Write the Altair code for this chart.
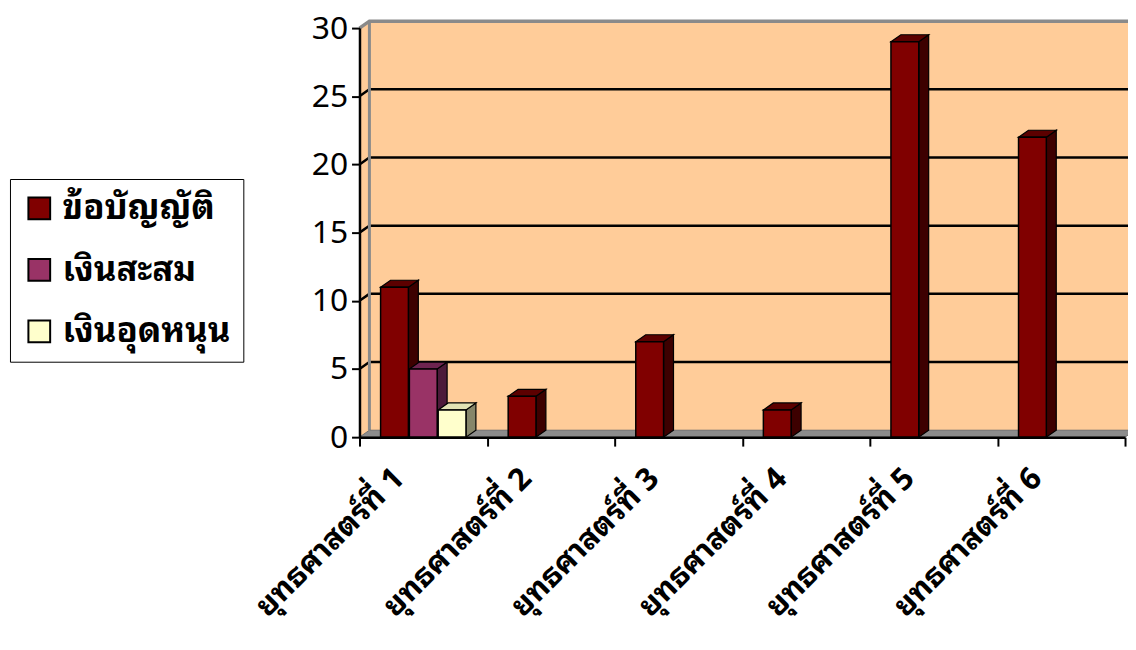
import altair as alt
import pandas as pd

# ---- data ----
categories = ["ยุทธศาสตร์ที่ 1", "ยุทธศาสตร์ที่ 2", "ยุทธศาสตร์ที่ 3",
              "ยุทธศาสตร์ที่ 4", "ยุทธศาสตร์ที่ 5", "ยุทธศาสตร์ที่ 6"]
series_names = ["ข้อบัญญัติ", "เงินสะสม", "เงินอุดหนุน"]
v_bylaw = [11, 3, 7, 2, 29, 22]
v_savings = [5, 0, 0, 0, 0, 0]
v_subsidy = [2, 0, 0, 0, 0, 0]
y_ticks = [0, 5, 10, 15, 20, 25, 30]

front_colors = ["#800000", "#993366", "#FFFFCC"]
side_colors = ["#3D0000", "#4D1A3A", "#86866A"]
top_colors = ["#5C0000", "#6E2450", "#E2E2B4"]

THAI_FONT = "Noto Sans Thai Looped, Loma, Garuda, Tahoma, Noto Sans"

# ---- geometry (pixels) ----
W, H = 771, 412
NCAT, YMAX = len(categories), 30
PX_X = W / NCAT
PX_Y = H / YMAX
DX = 10 / PX_X       # depth offset in x units
DY = 7 / PX_Y        # depth offset in y units
BAR_W = 28 / PX_X
BAR_STEP = 29 / PX_X

values = [v_bylaw, v_savings, v_subsidy]

front_rows, side_rows, top_rows = [], [], []
for i in range(NCAT):
    for j, s in enumerate(series_names):
        v = values[j][i]
        if v <= 0:
            continue
        c = i + 0.5 + (j - 1) * BAR_STEP
        x0, x1 = c - BAR_W / 2, c + BAR_W / 2
        bid = f"{i}-{j}"
        front_rows.append(dict(bid=bid, series=s, x0=x0, x1=x1, top=v, bot=0))
        side_rows += [
            dict(bid=bid, col=side_colors[j], x=x1, top=v, bot=0),
            dict(bid=bid, col=side_colors[j], x=x1 + DX, top=v + DY, bot=DY),
        ]
        top_rows += [
            dict(bid=bid, col=top_colors[j], x=x0, top=v, bot=v),
            dict(bid=bid, col=top_colors[j], x=x0 + DX, top=v + DY, bot=v),
            dict(bid=bid, col=top_colors[j], x=x1, top=v + DY, bot=v),
            dict(bid=bid, col=top_colors[j], x=x1 + DX, top=v + DY, bot=v + DY),
        ]

front_df = pd.DataFrame(front_rows)
side_df = pd.DataFrame(side_rows)
top_df = pd.DataFrame(top_rows)

xs = alt.Scale(domain=[0, NCAT], nice=False, zero=False)
ys = alt.Scale(domain=[0, YMAX], nice=False)

AX_X = alt.Axis(values=list(range(NCAT + 1)), labels=False, title=None, grid=False,
                domainColor="black", domainWidth=2.5, tickColor="black", tickWidth=2,
                tickSize=9, zindex=1)
AX_Y = alt.Axis(values=y_ticks, title=None, grid=False, domainColor="black", domainWidth=2.5,
                tickColor="black", tickWidth=2, tickSize=8, labelFont="Noto Sans",
                labelFontSize=32, labelColor="black", labelPadding=4, zindex=1)


def X(f):
    return alt.X(f, scale=xs, axis=AX_X, title=None)


def Y(f):
    return alt.Y(f, scale=ys, axis=AX_Y, title=None, stack=None)


# walls
back_df = pd.DataFrame([dict(x0=DX, x1=NCAT + DX, y0=DY, y1=YMAX + DY)])
left_df = pd.DataFrame([dict(x=0, top=YMAX, bot=0), dict(x=DX, top=YMAX + DY, bot=DY)])
floor_df = pd.DataFrame([
    dict(x=0, top=0, bot=0), dict(x=DX, top=DY, bot=0),
    dict(x=NCAT, top=DY, bot=0), dict(x=NCAT + DX, top=DY, bot=DY)])

grid_rows = []
for v in y_ticks[1:-1]:
    grid_rows += [dict(g=v, x=0, y=v), dict(g=v, x=DX, y=v + DY), dict(g=v, x=NCAT + DX, y=v + DY)]
grid_df = pd.DataFrame(grid_rows)
border_df = pd.DataFrame([
    dict(g=1, x=0, y=YMAX), dict(g=1, x=DX, y=YMAX + DY), dict(g=1, x=NCAT + DX, y=YMAX + DY)])
vedge_df = pd.DataFrame([dict(x=DX, y0=DY, y1=YMAX + DY)])

peach = "#FFCC99"

back = alt.Chart(back_df).mark_rect(color=peach).encode(
    x=X("x0:Q"), x2="x1:Q", y=Y("y0:Q"), y2="y1:Q")

left = alt.Chart(left_df).mark_area(color=peach, orient="vertical").encode(
    x=X("x:Q"), y=Y("top:Q"), y2="bot:Q")

floor = alt.Chart(floor_df).mark_area(color="#8C8C8C", orient="vertical", stroke="#6E6E6E", strokeWidth=1).encode(
    x=X("x:Q"), y=Y("top:Q"), y2="bot:Q")

grid = alt.Chart(grid_df).mark_line(color="black", strokeWidth=2.5).encode(
    x=X("x:Q"), y=Y("y:Q"), detail="g:N")

border = alt.Chart(border_df).mark_line(color="#8A8A8A", strokeWidth=3.5).encode(
    x=X("x:Q"), y=Y("y:Q"), detail="g:N")

vedge = alt.Chart(vedge_df).mark_rule(color="#8A8A8A", strokeWidth=3).encode(
    x=X("x:Q"), y=Y("y0:Q"), y2="y1:Q")

sides = alt.Chart(side_df).mark_area(orient="vertical", stroke="black", strokeWidth=1.2).encode(
    x=X("x:Q"), y=Y("top:Q"), y2="bot:Q",
    fill=alt.Fill("col:N", scale=None), detail="bid:N")

tops = alt.Chart(top_df).mark_area(orient="vertical", stroke="black", strokeWidth=1.2).encode(
    x=X("x:Q"), y=Y("top:Q"), y2="bot:Q",
    fill=alt.Fill("col:N", scale=None), detail="bid:N")

fronts = alt.Chart(front_df).mark_rect(stroke="black", strokeWidth=1.5).encode(
    x=X("x0:Q"), x2="x1:Q", y=Y("top:Q"), y2="bot:Q",
    color=alt.Color("series:N",
                    scale=alt.Scale(domain=series_names, range=front_colors),
                    sort=series_names,
                    legend=alt.Legend(
                        title=None, orient="none", legendX=-352, legendY=152,
                        strokeColor="black", fillColor="white", padding=12,
                        symbolType="square", symbolSize=480,
                        symbolStrokeColor="black", symbolStrokeWidth=2,
                        labelFont=THAI_FONT, labelFontSize=35,
                        labelFontWeight="bold", labelColor="black",
                        labelOffset=6, rowPadding=26, labelLimit=400)))

lab_df = pd.DataFrame({"cat": categories, "x": [i + 0.5 for i in range(NCAT)], "y": [0] * NCAT})
labels = alt.Chart(lab_df).mark_text(
    angle=315, align="right", baseline="middle", font=THAI_FONT, fontSize=31,
    fontWeight="bold", color="black", xOffset=-24, yOffset=37).encode(
    x=X("x:Q"), y=Y("y:Q"), text="cat:N")

chart = alt.layer(back, left, grid, border, vedge, floor, sides, tops, fronts, labels).properties(
    width=W, height=H,
    autosize=alt.AutoSizeParams(type="none"),
    padding={"left": 354, "top": 18, "right": 3, "bottom": 196},
    background="white",
).configure_view(strokeWidth=0)

chart.save("out.html", embed_options={"renderer": "svg", "actions": False})
